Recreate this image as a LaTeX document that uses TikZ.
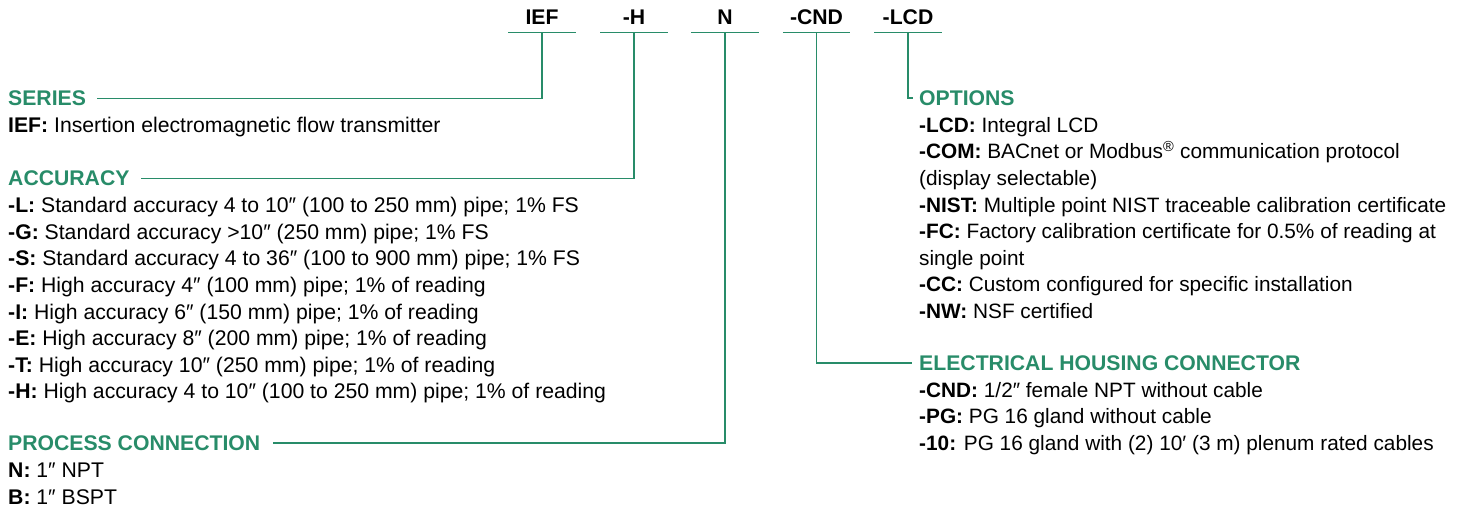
\documentclass[tikz,border=0pt]{standalone}
\usepackage{fontspec}
\setmainfont{Liberation Sans}
\usetikzlibrary{positioning}
\definecolor{codegreen}{RGB}{40,140,105}

\begin{document}
\begin{tikzpicture}[x=1pt,y=-1pt]
  \useasboundingbox (0,0) rectangle (1465,513);
  % order code
  \begin{scope}[
    every node/.style={
      font=\fontsize{21.2}{26.6}\selectfont\bfseries,
      inner sep=0pt,
      minimum width=67pt,
      minimum height=29pt,
    },
    ]
    \node (ief) at (542,17.5)   {IEF};
    \node (acc) at (634,17.5)   {-H};
    \node (con) at (725,17.5)   {N};
    \node (hsg) at (816.5,17.5) {-CND};
    \node (opt) at (908,17.5)   {-LCD};
  \end{scope}
  % section heads
  \begin{scope}[
    every node/.style={
      font=\fontsize{21.2}{26.6}\selectfont\bfseries,
      text=codegreen,
      inner sep=0pt,
      anchor=west,
    },
    ]
    \node (series)   at (8,98.5)   {SERIES};
    \node (accuracy) at (8,178.4)  {ACCURACY};
    \node (process)  at (8,443)    {PROCESS CONNECTION};
    \node (options)  at (919,98)   {OPTIONS};
    \node (housing)  at (919,363)  {ELECTRICAL HOUSING CONNECTOR};
  \end{scope}
  % section texts (placed by the baseline of their last line)
  \begin{scope}[
    every node/.style={
      font=\fontsize{21.2}{26.6}\selectfont,
      align=left,
      inner sep=0pt,
      anchor=base west,
    },
    ]
    \node (series-txt) at (8,132.6)
      {\textbf{IEF:} Insertion electromagnetic flow transmitter};
    \node (accuracy-txt) at (8,398.8)
      {\textbf{-L:} Standard accuracy 4 to 10″ (100 to 250 mm) pipe; 1\% FS\\
       \textbf{-G:} Standard accuracy >10″ (250 mm) pipe; 1\% FS\\
       \textbf{-S:} Standard accuracy 4 to 36″ (100 to 900 mm) pipe; 1\% FS\\
       \textbf{-F:} High accuracy 4″ (100 mm) pipe; 1\% of reading\\
       \textbf{-I:} High accuracy 6″ (150 mm) pipe; 1\% of reading\\
       \textbf{-E:} High accuracy 8″ (200 mm) pipe; 1\% of reading\\
       \textbf{-T:} High accuracy 10″ (250 mm) pipe; 1\% of reading\\
       \textbf{-H:} High accuracy 4 to 10″ (100 to 250 mm) pipe; 1\% of reading};
    \node (process-txt) at (8,504.2)
      {\textbf{N:} 1″ NPT\\
       \textbf{B:} 1″ BSPT};
    \node[font=\fontsize{20.8}{26.6}\selectfont] (options-txt) at (919,318.4)
      {\textbf{-LCD:} Integral LCD\\
       \textbf{-COM:} BACnet or Modbus\textsuperscript{®} communication protocol\\
       (display selectable)\\
       \textbf{-NIST:} Multiple point NIST traceable calibration certificate\\
       \textbf{-FC:} Factory calibration certificate for 0.5\% of reading at\\
       single point\\
       \textbf{-CC:} Custom configured for specific installation\\
       \textbf{-NW:} NSF certified};
    \node[font=\fontsize{20.8}{26.6}\selectfont] (housing-txt) at (919,450.4)
      {\textbf{-CND:} 1/2″ female NPT without cable\\
       \textbf{-PG:} PG 16 gland without cable\\
       \textbf{-10:} PG 16 gland with (2) 10′ (3 m) plenum rated cables};
  \end{scope}
  % rules and leaders
  \begin{scope}[
    every path/.style={draw=codegreen,line width=1.3pt},
    ]
    \foreach \c in {ief,acc,con,hsg,opt}
      \draw (\c.south west) -- (\c.south east);
    \draw (ief.south) |- ([xshift=11pt]series.east);
    \draw (acc.south) |- ([xshift=11pt]accuracy.east);
    \draw (con.south) |- ([xshift=13pt]process.east);
    \draw (hsg.south) |- ([xshift=-7pt]housing.west);
    \draw (opt.south) |- ([xshift=-6pt]options.west);
  \end{scope}
\end{tikzpicture}
\end{document}
